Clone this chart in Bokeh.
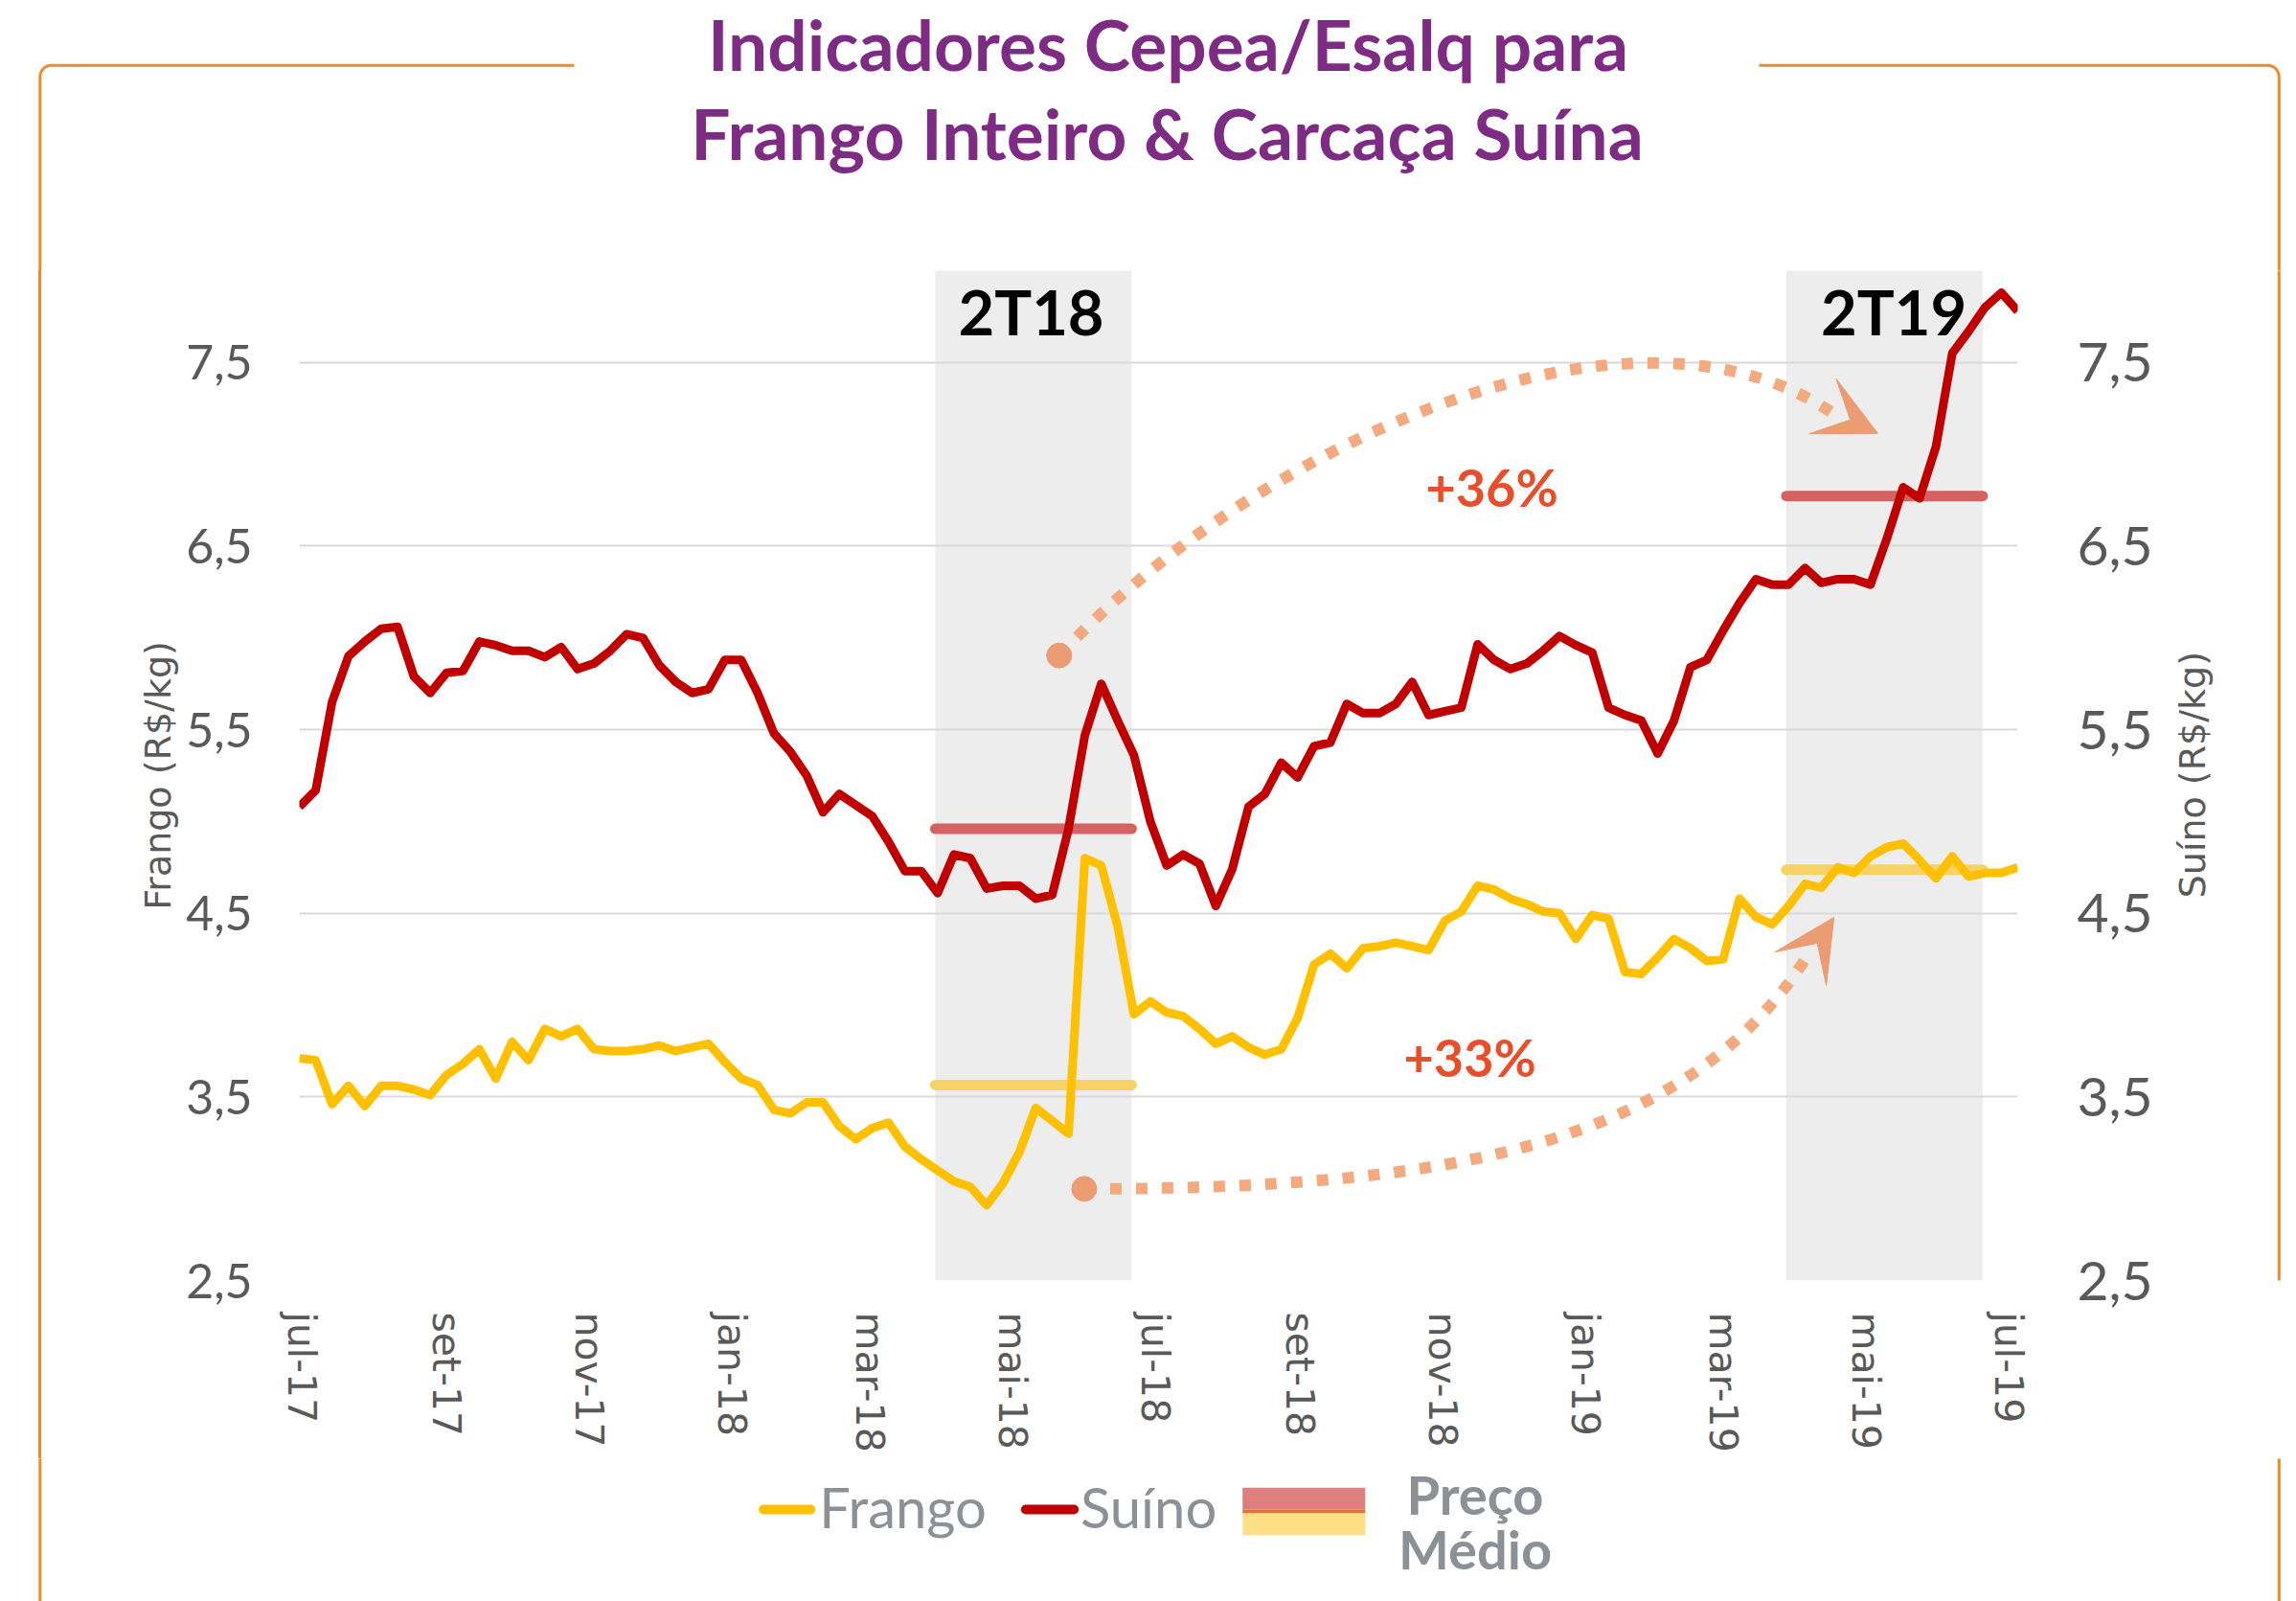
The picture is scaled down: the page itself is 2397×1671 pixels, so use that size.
import numpy as np
import pandas as pd
from bokeh.plotting import figure
from bokeh.layouts import column, row
from bokeh.models import (Range1d, LinearAxis, FixedTicker, CustomJSTickFormatter,
                          Arrow, VeeHead, Grid, Spacer)
from bokeh.core.properties import value
from bokeh.embed import file_html
from bokeh.resources import INLINE

# ---------------- data ----------------
first_week = "2017-06-30"
frango = [3.71, 3.70, 3.46, 3.56, 3.45, 3.56, 3.56, 3.54, 3.51, 3.62,
          3.68, 3.76, 3.60, 3.80, 3.70, 3.87, 3.83, 3.87, 3.76, 3.75,
          3.75, 3.76, 3.78, 3.75, 3.77, 3.79, 3.69, 3.60, 3.565, 3.43,
          3.41, 3.47, 3.47, 3.34, 3.27, 3.33, 3.36, 3.23, 3.16, 3.10,
          3.04, 3.01, 2.91, 3.03, 3.20, 3.44, 3.37, 3.30, 4.80, 4.76,
          4.43, 3.95, 4.02, 3.96, 3.94, 3.87, 3.79, 3.83, 3.77, 3.73,
          3.76, 3.93, 4.22, 4.28, 4.20, 4.31, 4.32, 4.34, 4.32, 4.30,
          4.46, 4.51, 4.65, 4.63, 4.58, 4.55, 4.51, 4.50, 4.36, 4.49,
          4.47, 4.18, 4.17, 4.26, 4.36, 4.31, 4.24, 4.25, 4.58, 4.48,
          4.44, 4.54, 4.66, 4.64, 4.75, 4.72, 4.81, 4.86, 4.88, 4.79,
          4.69, 4.81, 4.70, 4.72, 4.72, 4.75]
suino = [5.08, 5.17, 5.65, 5.90, 5.98, 6.05, 6.06, 5.79, 5.70, 5.81,
         5.82, 5.98, 5.96, 5.93, 5.93, 5.895, 5.95, 5.83, 5.86, 5.93,
         6.02, 6.00, 5.85, 5.76, 5.70, 5.72, 5.88, 5.88, 5.70, 5.48,
         5.38, 5.25, 5.05, 5.15, 5.09, 5.03, 4.89, 4.73, 4.73, 4.61,
         4.82, 4.80, 4.635, 4.65, 4.65, 4.58, 4.60, 4.96, 5.47, 5.75,
         5.55, 5.36, 5.00, 4.76, 4.82, 4.77, 4.54, 4.74, 5.08, 5.15,
         5.32, 5.24, 5.41, 5.43, 5.64, 5.59, 5.59, 5.64, 5.76, 5.58,
         5.60, 5.62, 5.965, 5.88, 5.83, 5.86, 5.93, 6.01, 5.96, 5.92,
         5.62, 5.58, 5.55, 5.37, 5.55, 5.84, 5.88, 6.04, 6.19, 6.32,
         6.29, 6.29, 6.38, 6.30, 6.32, 6.32, 6.29, 6.54, 6.82, 6.76,
         7.04, 7.55, 7.67, 7.80, 7.88, 7.78]

month_ticks = ["2017-07-01", "2017-09-01", "2017-11-01", "2018-01-01", "2018-03-01",
               "2018-05-01", "2018-07-01", "2018-09-01", "2018-11-01", "2019-01-01",
               "2019-03-01", "2019-05-01", "2019-07-01"]
month_labels = ["jul-17", "set-17", "nov-17", "jan-18", "mar-18", "mai-18", "jul-18",
                "set-18", "nov-18", "jan-19", "mar-19", "mai-19", "jul-19"]
y_ticks = [2.5, 3.5, 4.5, 5.5, 6.5, 7.5]

quarters = ["2T18", "2T19"]
quarter_start = ["2018-03-29", "2019-03-28"]
quarter_end = ["2018-06-21", "2019-06-20"]
media_frango = [3.565, 4.737]
media_suino = [4.96, 6.773]

var_labels = ["+36%", "+33%"]

# ---------------- helpers ----------------
origin = pd.Timestamp("2017-07-01")
def day(s):
    return (pd.Timestamp(s) - origin).days

dates = pd.date_range(first_week, periods=len(frango), freq="7D")
xs = [int(v) for v in (dates - origin).days]
tick_x = [day(s) for s in month_ticks]
q0 = [day(s) for s in quarter_start]
q1 = [day(s) for s in quarter_end]
qlab_x = [(a + b) / 2 + dx for a, b, dx in zip(q0, q1, (-1, 4))]

GRAY = "#595959"
ORANGE = "#EE8A2C"
PURPLE = "#7E2B83"
YEL = "#FFC000"
RED = "#C00000"
SALMON = "#F4A97E"
SALMON_D = "#EB9C72"
LEG_GRAY = "#8C9198"
BASE_SHIFT = 0.37          # text baseline correction (fraction of font size)
PX_PER_UNIT = 191.6

TOTAL_W = 2381
H_T, H_M, H_G = 282, 1240, 149
W_L, W_R = 50, 136
W_M = TOTAL_W - W_L - W_R
BX_L, BX_R, BY_T = 33.3, 2370.8, 67.7
RAD = 12

def blank(w, h):
    f = figure(width=w, height=h, x_range=Range1d(0, w), y_range=Range1d(h, 0),
               x_axis_type=None, y_axis_type=None, toolbar_location=None,
               output_backend="svg", min_border=0)
    f.outline_line_color = None
    f.background_fill_color = "white"
    f.border_fill_color = "white"
    return f

# ---------------- title figure ----------------
T = blank(TOTAL_W, H_T)
ang = np.linspace(np.pi, 1.5 * np.pi, 12)
lx = [BX_L, BX_L] + list(BX_L + RAD + RAD * np.cos(ang)) + [591]
ly = [H_T + 2, BY_T + RAD] + list(BY_T + RAD + RAD * np.sin(ang)) + [BY_T]
T.line(lx, ly, line_color=ORANGE, line_width=3)
ang2 = np.linspace(1.5 * np.pi, 2 * np.pi, 12)
rx = [1828] + list(BX_R - RAD + RAD * np.cos(ang2)) + [BX_R, BX_R]
ry = [BY_T] + list(BY_T + RAD + RAD * np.sin(ang2)) + [BY_T + RAD, H_T + 2]
T.line(rx, ry, line_color=ORANGE, line_width=3)
fs_title = 73
T.text(x=[1211, 1210], y=[73 - BASE_SHIFT * fs_title, 166 - BASE_SHIFT * fs_title],
       text=["Indicadores Cepea/Esalq para", "Frango Inteiro & Carcaça Suína"],
       text_font=value("Lato"), text_font_style="bold", text_font_size=f"{fs_title}px",
       text_color=PURPLE, text_align="center", text_baseline="alphabetic")

# ---------------- side strips ----------------
line_css = ("linear-gradient(to right, transparent {a}px, #EE8A2C {a}px, "
            "#EE8A2C {b}px, transparent {b}px)")
L = Spacer(width=W_L, height=H_M,
           styles={"background": line_css.format(a=BX_L - 1.5, b=BX_L + 1.5)})
R = blank(W_R, H_M)
rxl = BX_R - (W_L + W_M)
R.segment(x0=[rxl], x1=[rxl], y0=[-2], y1=[H_M + 2], line_color=ORANGE, line_width=3)
R.text(x=[2288 - 8 - (W_L + W_M)], y=[810 - H_T + 91], text=["Suíno (R$/kg)"],
       angle=np.pi / 2,
       text_font=value("DejaVu Sans"), text_font_size="38px", text_color=GRAY,
       text_align="center", text_baseline="middle")

# ---------------- main chart ----------------
M = figure(width=W_M, height=H_M, x_range=Range1d(xs[0], xs[-1]), y_range=Range1d(2.5, 8.0),
           x_axis_type=None, y_axis_type=None, toolbar_location=None, output_backend="svg",
           min_border_left=254, min_border_right=W_M - 254 - 1794, min_border_top=0,
           min_border_bottom=186)
M.outline_line_color = None
M.extra_y_ranges = {"suino": Range1d(2.5, 8.0)}

fmt = CustomJSTickFormatter(code="return tick.toFixed(1).replace('.', ',')")

xaxis = LinearAxis(ticker=FixedTicker(ticks=tick_x),
                   major_label_overrides={t: l for t, l in zip(tick_x, month_labels)})
xaxis.major_label_orientation = "vertical"
xaxis.major_label_text_font = "DejaVu Sans"
xaxis.major_label_text_font_size = "41px"
xaxis.major_label_text_color = GRAY
xaxis.major_label_standoff = 33
xaxis.axis_line_color = None
xaxis.major_tick_line_color = None
xaxis.minor_tick_line_color = None
xaxis.major_tick_out = 0
xaxis.major_tick_in = 0
M.add_layout(xaxis, "below")

yl = LinearAxis(ticker=FixedTicker(ticks=y_ticks), formatter=fmt, axis_label="Frango (R$/kg)")
yr = LinearAxis(ticker=FixedTicker(ticks=y_ticks), formatter=fmt, y_range_name="suino")
for ax, fs, so, lso in ((yl, "50px", 49, 4), (yr, "57px", 62, 0)):
    ax.major_label_text_font = "Lato"
    ax.major_label_text_font_size = fs
    ax.major_label_text_color = GRAY
    ax.major_label_standoff = so
    ax.axis_label_text_font = "DejaVu Sans"
    ax.axis_label_text_font_size = "38px"
    ax.axis_label_text_font_style = "normal"
    ax.axis_label_text_color = GRAY
    ax.axis_label_standoff = lso
    ax.axis_line_color = None
    ax.major_tick_line_color = None
    ax.minor_tick_line_color = None
    ax.major_tick_out = 0
    ax.major_tick_in = 0
M.add_layout(yl, "left")
M.add_layout(yr, "right")

M.add_layout(Grid(dimension=1, ticker=FixedTicker(ticks=y_ticks),
                  grid_line_color="#D9D9D9", grid_line_width=2))

# quarter bands
M.quad(left=q0, right=q1, bottom=2.5, top=8.0, fill_color="#EDEDED", line_color=None,
       level="image")

# average price lines
M.segment(x0=q0, x1=q1, y0=media_suino, y1=media_suino, line_color="#D46262",
          line_width=11, line_cap="round", y_range_name="suino")
M.segment(x0=q0, x1=q1, y0=media_frango, y1=media_frango, line_color="#F8D266",
          line_width=11, line_cap="round")

# series
M.line(xs, frango, line_color=YEL, line_width=9, line_join="round")
M.line(xs, suino, line_color=RED, line_width=9, line_join="round", y_range_name="suino")

# dotted arrows
arr_p0 = [(324.0, 5.904), (334.7, 2.999)]
arr_c1 = [(409.8, 7.077), (491.2, 2.999)]
arr_c2 = [(572.6, 7.995), (591.1, 3.238)]
arr_p3 = [(657.8, 7.197), (642.8, 4.244)]
arr_notch = [(659.1, 7.208), (644.7, 4.268)]
arr_tip = [(674.1, 7.114), (655.4, 4.478)]
M.bezier(x0=[p[0] for p in arr_p0], y0=[p[1] for p in arr_p0],
         x1=[p[0] for p in arr_p3], y1=[p[1] for p in arr_p3],
         cx0=[p[0] for p in arr_c1], cy0=[p[1] for p in arr_c1],
         cx1=[p[0] for p in arr_c2], cy1=[p[1] for p in arr_c2],
         line_color=SALMON, line_width=12, line_dash="12 15")
M.scatter([p[0] for p in arr_p0], [p[1] for p in arr_p0], size=26,
          fill_color=SALMON_D, line_color=SALMON_D)
for (xa, ya), (xb, yb) in zip(arr_notch, arr_tip):
    M.add_layout(Arrow(end=VeeHead(size=64, fill_color=SALMON_D, line_color=SALMON_D,
                                   line_width=1),
                       x_start=xa, y_start=ya, x_end=xb, y_end=yb, line_alpha=0))

# texts in the plot
fs_q = 65
M.text(x=qlab_x, y=[7.651 + BASE_SHIFT * fs_q / PX_PER_UNIT] * 2, text=quarters,
       text_font=value("Lato"), text_font_style="bold", text_font_size=f"{fs_q}px",
       text_color="#000000", text_align="center", text_baseline="alphabetic")
fs_v = 54
M.text(x=[509.1, 499.7],
       y=[6.717 + BASE_SHIFT * fs_v / PX_PER_UNIT, 3.61 + BASE_SHIFT * fs_v / PX_PER_UNIT],
       text=var_labels, text_font=value("Lato"),
       text_font_style="bold", text_font_size=f"{fs_v}px", text_color="#E84E2A",
       text_align="center", text_baseline="alphabetic")

# ---------------- legend figure ----------------
G = blank(TOTAL_W, H_G)
G.segment(x0=[BX_L, BX_R], x1=[BX_L, BX_R], y0=[-2, -2], y1=[H_G + 2, H_G + 2],
          line_color=ORANGE, line_width=3)
G.segment(x0=[788.6], x1=[837.7], y0=[53], y1=[53], line_color=YEL, line_width=10,
          line_cap="round")
G.segment(x0=[1062.4], x1=[1112.7], y0=[53], y1=[53], line_color=RED, line_width=10,
          line_cap="round")
fs_leg = 58
G.text(x=[846.7, 1119.4], y=[71.3 - BASE_SHIFT * fs_leg] * 2, text=["Frango", "Suíno"],
       text_font=value("Lato"), text_font_size=f"{fs_leg}px", text_color=LEG_GRAY,
       text_align="left", text_baseline="alphabetic")
G.quad(left=[1288.7, 1288.7, 1288.7], right=[1416.8, 1416.8, 1416.8],
       top=[30.3, 53, 57], bottom=[53, 57, 79.7],
       fill_color=["#DE7F7E", "#E2703F", "#FFDF85"], line_color=None)
fs_pm = 56
G.text(x=[1531.5, 1531.5], y=[57.5 - BASE_SHIFT * fs_pm, 115 - BASE_SHIFT * fs_pm],
       text=["Preço", "Médio"],
       text_font=value("Lato"), text_font_style="bold", text_font_size=f"{fs_pm}px",
       text_color=LEG_GRAY, text_align="center", text_baseline="alphabetic")

inner = column(T, row(L, M, R), G)
layout = row(Spacer(width=8), inner)
open("out.html", "w").write(file_html(layout, INLINE))
